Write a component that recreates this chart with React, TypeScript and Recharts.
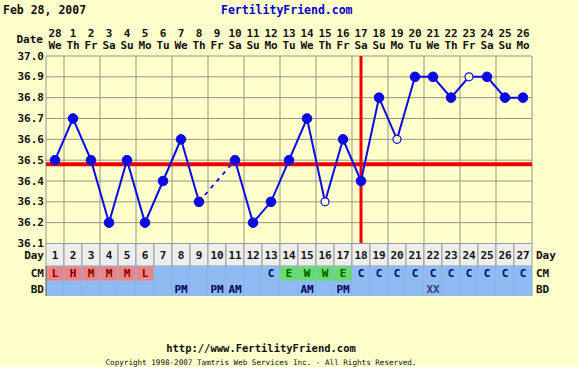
import { ComposedChart, Line, XAxis, YAxis, CartesianGrid, ReferenceLine } from 'recharts';

const days = [1, 2, 3, 4, 5, 6, 7, 8, 9, 10, 11, 12, 13, 14, 15, 16, 17, 18, 19, 20, 21, 22, 23, 24, 25, 26, 27];
const dates = ['28', '1', '2', '3', '4', '5', '6', '7', '8', '9', '10', '11', '12', '13', '14', '15', '16', '17', '18', '19', '20', '21', '22', '23', '24', '25', '26'];
const weekdays = ['We', 'Th', 'Fr', 'Sa', 'Su', 'Mo', 'Tu', 'We', 'Th', 'Fr', 'Sa', 'Su', 'Mo', 'Tu', 'We', 'Th', 'Fr', 'Sa', 'Su', 'Mo', 'Tu', 'We', 'Th', 'Fr', 'Sa', 'Su', 'Mo'];
const temps = [36.5, 36.7, 36.5, 36.2, 36.5, 36.2, 36.4, 36.6, 36.3, null, 36.5, 36.2, 36.3, 36.5, 36.7, 36.3, 36.6, 36.4, 36.8, 36.6, 36.9, 36.9, 36.8, 36.9, 36.9, 36.8, 36.8];
const openDays = [16, 20, 24];
const cm = ['L', 'H', 'M', 'M', 'M', 'L', '', '', '', '', '', '', 'C', 'E', 'W', 'W', 'E', 'C', 'C', 'C', 'C', 'C', 'C', 'C', 'C', 'C', 'C'];
const bd = ['', '', '', '', '', '', '', 'PM', '', 'PM', 'AM', '', '', '', 'AM', '', 'PM', '', '', '', '', 'XX', '', '', '', '', ''];
const tempTicks = [36.1, 36.2, 36.3, 36.4, 36.5, 36.6, 36.7, 36.8, 36.9, 37.0];
const coverline = 36.48;
const ovulationDay = 18;

const BG = '#FFFFCC';
const BLUE = '#0a0ae6';
const ROW_BLUE = '#8FBAF2';
const FONT = '"DejaVu Sans Mono", monospace';

const data = days.map((day, i) => {
  const t = temps[i];
  // dashed bridge over missing temps
  const nearGap = t != null && (temps[i - 1] === null || temps[i + 1] === null);
  return { day, temp: t, gap: nearGap ? t : null };
});

const gridTicks = [0.5, ...days.map((d) => d + 0.5)];

function cmStyle(c: string) {
  if (c === 'L' || c === 'H' || c === 'M') return { fill: '#F08282', color: '#7a0000' };
  if (c === 'E' || c === 'W') return { fill: '#66DD66', color: '#005500' };
  return { fill: ROW_BLUE, color: '#000080' };
}

function TopTick(props: any) {
  const { x, payload } = props;
  const i = payload.value - 1;
  return (
    <g fontFamily={FONT} fontWeight="bold" fontSize={11} fill="#111">
      {i === 0 && (
        <text x={x - 12} y={39} textAnchor="end" dominantBaseline="central">Date</text>
      )}
      <text x={x} y={33} textAnchor="middle" dominantBaseline="central">{dates[i]}</text>
      <text x={x} y={45.5} textAnchor="middle" dominantBaseline="central">{weekdays[i]}</text>
    </g>
  );
}

function BottomTick(props: any) {
  const { x, payload } = props;
  const i = payload.value - 1;
  const c = cm[i];
  const s = cmStyle(c);
  return (
    <g fontFamily={FONT} fontWeight="bold" fontSize={11}>
      <rect x={x - 9} y={243.5} width={18} height={22.5} fill="#EEEEEE" stroke="#999" strokeWidth={1} />
      <text x={x} y={255} textAnchor="middle" dominantBaseline="central" fill="#111">{payload.value}</text>
      <rect x={x - 9} y={266} width={18} height={15} fill={ROW_BLUE} />
      {c && s.fill !== ROW_BLUE && (
        <rect x={x - 8.5} y={266.5} width={17} height={14} fill={s.fill} />
      )}
      {c && (
        <text x={x} y={273.5} textAnchor="middle" dominantBaseline="central" fill={s.color}>{c}</text>
      )}
      <rect x={x - 9} y={281} width={18} height={15} fill={ROW_BLUE} />
      <line x1={x + 9} x2={x + 9} y1={266} y2={296} stroke="#80aae6" strokeWidth={1} />
      {bd[i] && (
        <text x={x} y={289} textAnchor="middle" dominantBaseline="central" fill={bd[i] === 'XX' ? '#3a3a7a' : '#000060'}>{bd[i]}</text>
      )}
      {i === 0 && (
        <g fill="#111">
          <line x1={x - 9} x2={x - 9} y1={266} y2={296} stroke="#555" strokeWidth={1} />
          <text x={x - 11} y={255} textAnchor="end" dominantBaseline="central">Day</text>
          <text x={x - 11} y={273.5} textAnchor="end" dominantBaseline="central">CM</text>
          <text x={x - 11} y={289} textAnchor="end" dominantBaseline="central">BD</text>
        </g>
      )}
      {i === days.length - 1 && (
        <g fill="#111">
          <text x={x + 13} y={255} textAnchor="start" dominantBaseline="central">Day</text>
          <text x={x + 13} y={273.5} textAnchor="start" dominantBaseline="central">CM</text>
          <text x={x + 13} y={289} textAnchor="start" dominantBaseline="central">BD</text>
        </g>
      )}
    </g>
  );
}

function RowBorders(props: any) {
  const { x, payload } = props;
  const i = payload.value - 1;
  if (i !== 0) return <g />;
  const w = days.length * 18;
  return (
    <g fill="none" stroke="#444" strokeWidth={1}>
      <line x1={x - 9} x2={x - 9 + w} y1={266} y2={266} />
      <line x1={x - 9} x2={x - 9 + w} y1={296} y2={296} />
      <line x1={x - 9 + w} x2={x - 9 + w} y1={243.5} y2={296} />
    </g>
  );
}

function LeftTick(props: any) {
  const { y, payload } = props;
  return (
    <text x={44} y={y} textAnchor="end" dominantBaseline="central" fontFamily={FONT} fontWeight="bold" fontSize={11} fill="#111">
      {payload.value.toFixed(1)}
    </text>
  );
}

function RightTick(props: any) {
  const { y, payload } = props;
  return (
    <text x={535} y={y} textAnchor="start" dominantBaseline="central" fontFamily={FONT} fontWeight="bold" fontSize={11} fill="#111">
      {payload.value.toFixed(1)}
    </text>
  );
}

function TempDot(props: any) {
  const { cx, cy, payload, value } = props;
  if (value == null || cx == null) return <g key={`d-${payload.day}`} />;
  const open = openDays.includes(payload.day);
  return (
    <circle
      key={`d-${payload.day}`}
      cx={cx}
      cy={cy}
      r={open ? 4 : 4.8}
      fill={open ? BG : BLUE}
      stroke={BLUE}
      strokeWidth={open ? 1.2 : 1}
    />
  );
}

export default function App() {
  return (
    <div style={{ position: 'absolute', left: 0, top: 0, width: 578, height: 367, background: BG, overflow: 'hidden' }}>
      <div style={{ position: 'absolute', left: 3, top: 2, fontFamily: FONT, fontWeight: 'bold', fontSize: 11.5, color: '#111', lineHeight: '16px' }}>
        Feb 28, 2007
      </div>
      <div style={{ position: 'absolute', left: 221, top: 2, fontFamily: FONT, fontWeight: 'bold', fontSize: 11.5, color: '#0000CC', lineHeight: '16px' }}>
        FertilityFriend.com
      </div>
      <ComposedChart width={578} height={367} data={data} margin={{ top: 0, right: 0, bottom: 0, left: 0 }}>
        <XAxis
          xAxisId="top"
          dataKey="day"
          type="number"
          orientation="top"
          domain={[0.5, 27.5]}
          ticks={days}
          interval={0}
          height={56}
          axisLine={false}
          tickLine={false}
          tick={<TopTick />}
        />
        <XAxis
          xAxisId="bottom"
          dataKey="day"
          type="number"
          orientation="bottom"
          domain={[0.5, 27.5]}
          ticks={days}
          interval={0}
          height={123.5}
          axisLine={false}
          tickLine={false}
          tick={<BottomTick />}
        />
        <XAxis
          xAxisId="borders"
          dataKey="day"
          type="number"
          orientation="bottom"
          domain={[0.5, 27.5]}
          ticks={days}
          interval={0}
          height={0}
          axisLine={false}
          tickLine={false}
          tick={<RowBorders />}
        />
        <XAxis xAxisId="grid" dataKey="day" type="number" domain={[0.5, 27.5]} ticks={gridTicks} hide />
        <YAxis
          yAxisId="left"
          type="number"
          domain={[36.1, 37.0]}
          ticks={tempTicks}
          interval={0}
          width={46}
          axisLine={false}
          tickLine={false}
          tick={<LeftTick />}
        />
        <YAxis
          yAxisId="right"
          orientation="right"
          type="number"
          domain={[36.1, 37.0]}
          ticks={tempTicks}
          interval={0}
          width={46}
          axisLine={false}
          tickLine={false}
          tick={<RightTick />}
        />
        <CartesianGrid xAxisId="grid" yAxisId="left" stroke="#969686" strokeWidth={1} />
        <ReferenceLine xAxisId="top" yAxisId="left" y={coverline} stroke="#EE0000" strokeWidth={4} />
        <ReferenceLine xAxisId="top" yAxisId="left" x={ovulationDay} stroke="#EE0000" strokeWidth={3} />
        <Line
          xAxisId="top"
          yAxisId="left"
          dataKey="gap"
          stroke={BLUE}
          strokeWidth={1.8}
          strokeDasharray="4 5"
          connectNulls
          dot={false}
          activeDot={false}
          isAnimationActive={false}
        />
        <Line
          xAxisId="top"
          yAxisId="left"
          dataKey="temp"
          stroke={BLUE}
          strokeWidth={2}
          dot={<TempDot />}
          activeDot={false}
          isAnimationActive={false}
        />
      </ComposedChart>
      <div style={{ position: 'absolute', left: 0, width: 522, top: 341, textAlign: 'center', fontFamily: FONT, fontWeight: 'bold', fontSize: 10.5, color: '#111', lineHeight: '14px' }}>
        http://www.FertilityFriend.com
      </div>
      <div style={{ position: 'absolute', left: 0, width: 522, top: 357, textAlign: 'center', fontFamily: FONT, fontSize: 7.6, color: '#111', lineHeight: '11px' }}>
        Copyright 1998-2007 Tamtris Web Services Inc. - All Rights Reserved.
      </div>
    </div>
  );
}
